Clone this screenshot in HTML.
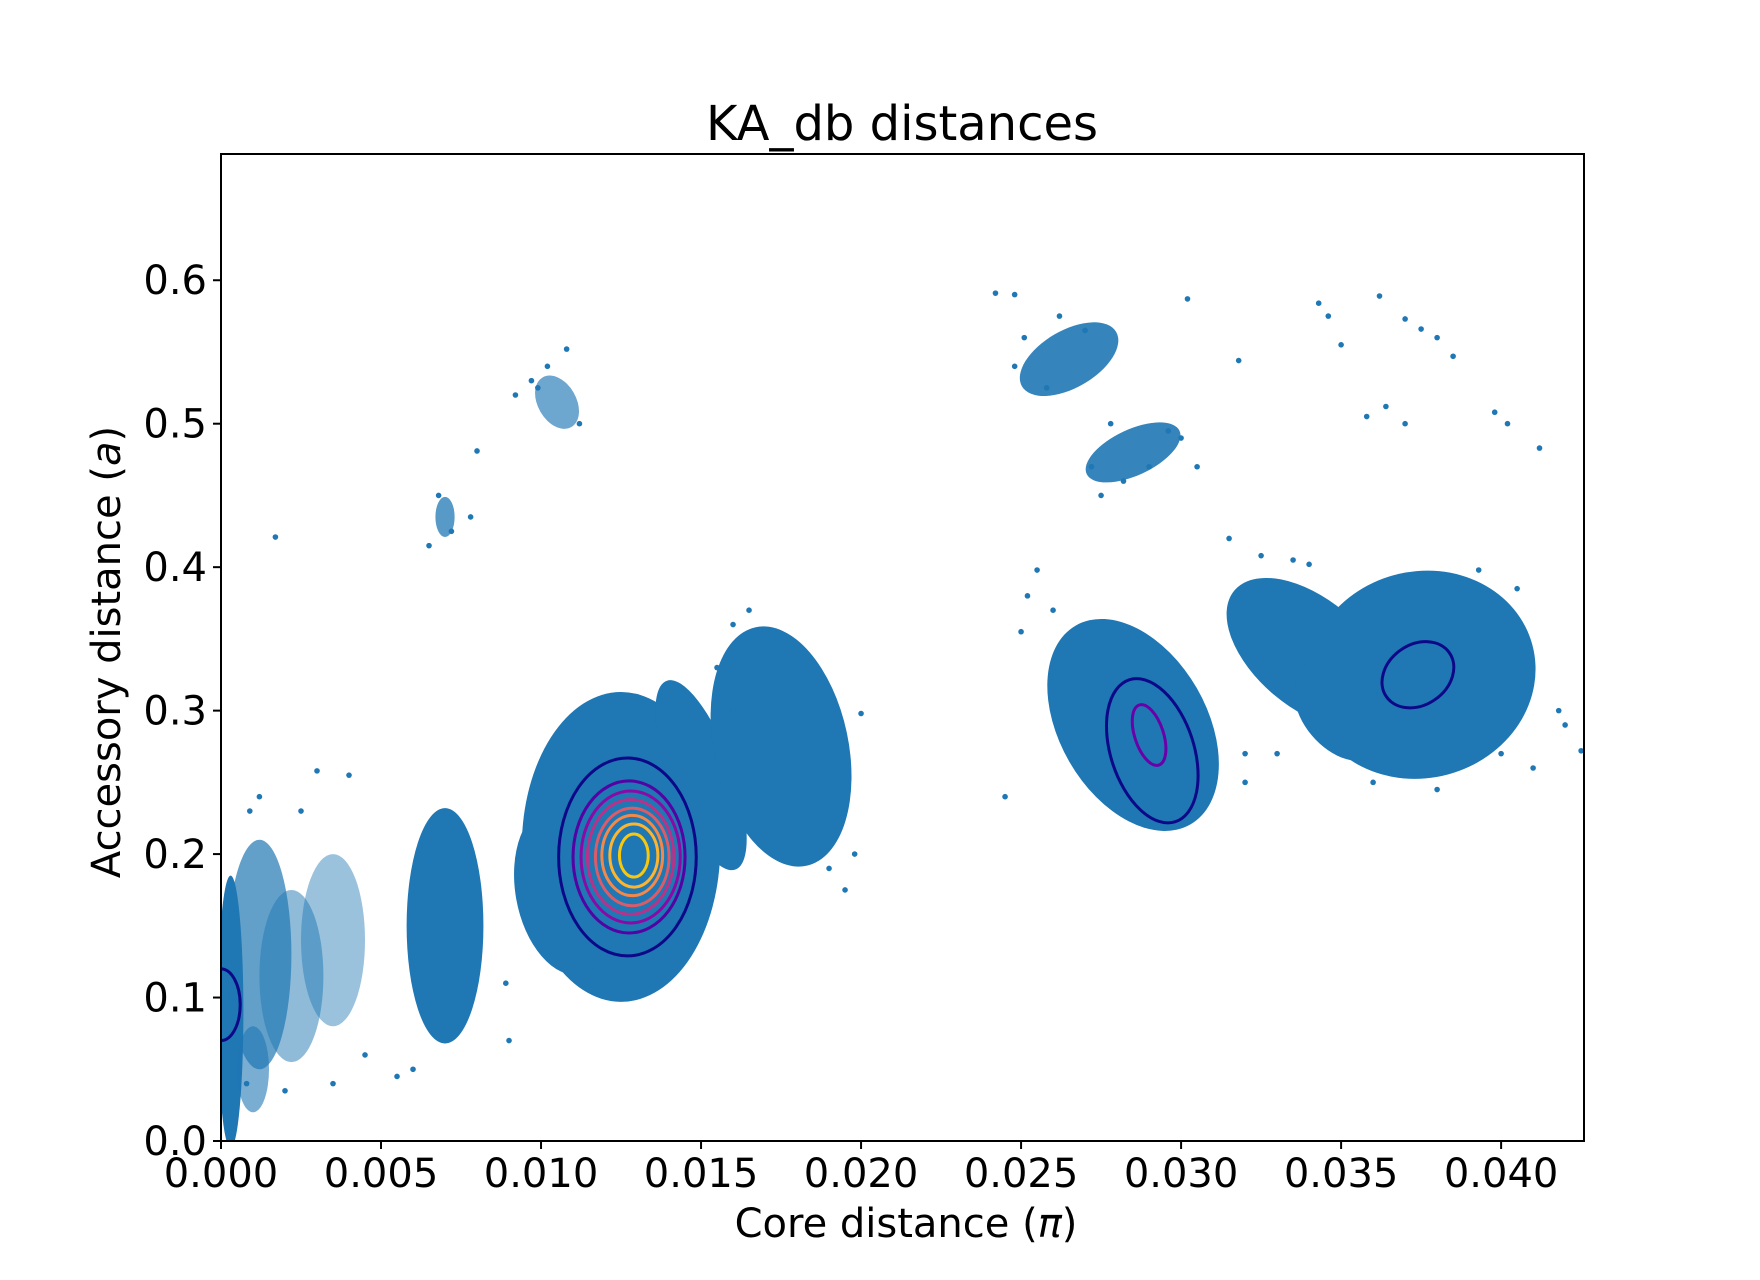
<!DOCTYPE html>
<html><head><meta charset="utf-8"><style>
body{margin:0;background:#fff}
svg{display:block;font-family:"DejaVu Sans","Liberation Sans",sans-serif}
</style></head><body>
<svg id="chart" width="1760" height="1280" viewBox="0 0 1760 1280" xmlns="http://www.w3.org/2000/svg">
<rect width="1760" height="1280" fill="#fff"/>
<text x="902" y="140" font-size="48" text-anchor="middle">KA_db distances</text>
<g id="plot"></g>
<g id="contours"></g>
<rect x="221" y="154" width="1363" height="987" fill="none" stroke="#000" stroke-width="2"/>
<g id="axes"></g>
<text x="906" y="1237" font-size="40" text-anchor="middle">Core distance (<tspan font-style="italic">π</tspan>)</text>
<text transform="translate(120,652) rotate(-90)" font-size="40" text-anchor="middle">Accessory distance (<tspan font-style="italic">a</tspan>)</text>
</svg>
<script>
// cluster blobs: centre x, centre y, radius x, radius y (data units), tilt (deg)
const blobX  = [0.0003,0.0012,0.0022,0.0035,0.0070,0.0125,0.0108,0.0150,0.0175,0.0285,0.0340,0.0375,0.0350,0.0265,0.0285,0.0070,0.0105,0.0010];
const blobY  = [0.090, 0.130, 0.115, 0.140, 0.150, 0.205, 0.175, 0.255, 0.275, 0.290, 0.340, 0.325, 0.300, 0.545, 0.480, 0.435, 0.515, 0.050];
const blobRX = [0.0004,0.0010,0.0010,0.0010,0.0012,0.0031,0.0016,0.0010,0.0021,0.0023,0.0017,0.0036,0.0012,0.0017,0.0016,0.00030,0.0006,0.0005];
const blobRY = [0.095, 0.080, 0.060, 0.060, 0.082, 0.108, 0.060, 0.070, 0.085, 0.080, 0.068, 0.072, 0.040, 0.020, 0.016, 0.014, 0.020, 0.030];
const blobRot= [0,0,0,0,0,0,-10,-20,-12,-30,-50,-15,-40,-30,-25,0,-30,0];
const blobOp = [1,0.7,0.5,0.45,1,1,1,1,1,1,1,1,1,0.9,0.9,0.75,0.65,0.6];
// loose scattered points
const ptX = [0.0017,0.0080,0.0078,0.0102,0.0108,0.0242,0.0248,0.0302,0.0318,0.0343,0.0346,0.0350,0.0362,0.0370,0.0375,0.0380,0.0385,0.0358,0.0364,0.0370,0.0398,0.0402,0.0412,0.0200,0.0195,0.0030,0.0040,0.0025,0.0012,0.0009,0.0055,0.0045,0.0090,0.0089,0.0165,0.0160,0.0255,0.0252,0.0245,0.0315,0.0320,0.0300,0.0325,0.0335,0.0340,0.0393,0.0405,0.0418,0.0425,0.0250,0.0260,0.0275,0.0305,0.0008,0.0020,0.0035,0.0060,0.0097,0.0099,0.0112,0.0092,0.0068,0.0072,0.0065,0.0251,0.0258,0.0270,0.0278,0.0282,0.0290,0.0296,0.0272,0.0262,0.0248,0.0198,0.0190,0.0155,0.0160,0.0320,0.0330,0.0400,0.0410,0.0420,0.0360,0.0380];
const ptY = [0.421,0.481,0.435,0.540,0.552,0.591,0.590,0.587,0.544,0.584,0.575,0.555,0.589,0.573,0.566,0.560,0.547,0.505,0.512,0.500,0.508,0.500,0.483,0.298,0.175,0.258,0.255,0.230,0.240,0.230,0.045,0.060,0.070,0.110,0.370,0.360,0.398,0.380,0.240,0.420,0.270,0.490,0.408,0.405,0.402,0.398,0.385,0.300,0.272,0.355,0.370,0.450,0.470,0.040,0.035,0.040,0.050,0.530,0.525,0.500,0.520,0.450,0.425,0.415,0.560,0.525,0.565,0.500,0.460,0.470,0.495,0.470,0.575,0.540,0.200,0.190,0.330,0.300,0.250,0.270,0.270,0.260,0.290,0.250,0.245];
// contour ellipses: cx, cy, rx, ry, rot, colour
const conX  = [0.0127,0.01275,0.0128,0.0128,0.01285,0.01285,0.0129,0.0129,0.0291,0.0290,0.0374,0.0000];
const conY  = [0.198,0.198,0.198,0.198,0.198,0.199,0.199,0.199,0.272,0.283,0.325,0.095];
const conRX = [0.00215,0.00175,0.00155,0.00135,0.00115,0.00095,0.00075,0.00045,0.0013,0.00045,0.0012,0.0006];
const conRY = [0.069,0.053,0.046,0.040,0.034,0.028,0.022,0.015,0.052,0.022,0.021,0.025];
const conRot= [0,0,0,0,0,0,0,0,-18,-18,-35,0];
const conCol= ["#0d0887","#5302a3","#8b0aa5","#b83289","#db5c68","#f48849","#fdb42f","#f9c80e","#0d0887","#6a00a8","#0d0887","#0d0887"];
const xTicks = [0,0.005,0.010,0.015,0.020,0.025,0.030,0.035,0.040];
const xTickLabels = ["0.000","0.005","0.010","0.015","0.020","0.025","0.030","0.035","0.040"];
const yTicks = [0,0.1,0.2,0.3,0.4,0.5,0.6];
const yTickLabels = ["0.0","0.1","0.2","0.3","0.4","0.5","0.6"];

const L=221,R=1584,T=154,B=1141,XMAX=0.04259,YMAX=0.688;
const sx=v=>L+v/XMAX*(R-L), sy=v=>B-v/YMAX*(B-T);
const kx=(R-L)/XMAX, ky=(B-T)/YMAX;
const NS="http://www.w3.org/2000/svg";
const mk=(t,a,p)=>{const e=document.createElementNS(NS,t);for(const k in a)e.setAttribute(k,a[k]);p.appendChild(e);return e;};
const plot=document.getElementById('plot');
const clip=mk('clipPath',{id:'cp'},document.getElementById('chart'));
mk('rect',{x:L,y:T,width:R-L,height:B-T},clip);
plot.setAttribute('clip-path','url(#cp)');
for(let i=0;i<blobX.length;i++){
  const cx=sx(blobX[i]),cy=sy(blobY[i]);
  const e=mk('ellipse',{cx:cx,cy:cy,rx:blobRX[i]*kx,ry:blobRY[i]*ky,fill:'#1f77b4','fill-opacity':blobOp[i],transform:`rotate(${blobRot[i]} ${cx} ${cy})`},plot);
  
  
}
for(let i=0;i<ptX.length;i++){
  const c=mk('circle',{cx:sx(ptX[i]),cy:sy(ptY[i]),r:2.8,fill:'#1f77b4'},plot);
  
  
}
const con=document.getElementById('contours');
con.setAttribute('clip-path','url(#cp)');
for(let i=0;i<conX.length;i++){
  const cx=sx(conX[i]),cy=sy(conY[i]);
  const e=mk('ellipse',{cx:cx,cy:cy,rx:conRX[i]*kx,ry:conRY[i]*ky,fill:'none',stroke:conCol[i],'stroke-width':3,transform:`rotate(${conRot[i]} ${cx} ${cy})`},con);
  
  
}
const ax=document.getElementById('axes');
xTicks.forEach((v,i)=>{
  const x=sx(v);
  const t=mk('line',{x1:x,x2:x,y1:B,y2:B+8,stroke:'#000','stroke-width':2},ax);
  
  
  const l=mk('text',{x:x,y:B+46,'font-size':40,'text-anchor':'middle'},ax);
  l.textContent=xTickLabels[i];
  
  
});
yTicks.forEach((v,i)=>{
  const y=sy(v);
  const t=mk('line',{x1:L-8,x2:L,y1:y,y2:y,stroke:'#000','stroke-width':2},ax);
  
  
  const l=mk('text',{x:L-14,y:y+14,'font-size':40,'text-anchor':'end'},ax);
  l.textContent=yTickLabels[i];
  
  
});
</script>
</body></html>
